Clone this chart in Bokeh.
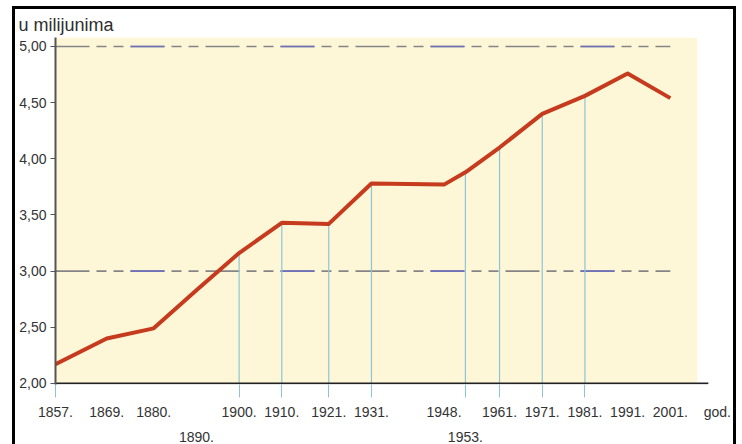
from bokeh.plotting import figure
from bokeh.models import Range1d, FixedTicker, LinearAxis
from bokeh.embed import file_html
from bokeh.resources import INLINE

# ---- data ----
years = [1857, 1869, 1880, 1890, 1900, 1910, 1921, 1931, 1948, 1953, 1961, 1971, 1981, 1991, 2001]
population = [2.17, 2.40, 2.49, 2.83, 3.16, 3.43, 3.42, 3.78, 3.77, 3.88, 4.10, 4.40, 4.56, 4.76, 4.54]
drop_years = [1900, 1910, 1921, 1931, 1953, 1961, 1971, 1981]
upper_label_years = [1857, 1869, 1880, 1900, 1910, 1921, 1931, 1948, 1961, 1971, 1981, 1991, 2001]
lower_label_years = [1890, 1953]
y_ticks = [2.0, 2.5, 3.0, 3.5, 4.0, 4.5, 5.0]
y_tick_labels = ["2,00", "2,50", "3,00", "3,50", "4,00", "4,50", "5,00"]
ref_levels = [3.0, 5.0]
title_text = "u milijunima"
x_unit_text = "god."
x_unit_pos = 2012
axis_end = 2009.9
panel_end = 2007.3

FONT = "Liberation Sans"
TXT = "#333333"

p = figure(width=724, height=438, x_range=Range1d(1857, 2017.2), y_range=Range1d(1.99, 5.08),
           output_backend="svg", toolbar_location=None,
           x_axis_type=None, y_axis_type=None,
           min_border_left=40, min_border_right=0, min_border_top=28, min_border_bottom=63)
p.outline_line_color = None
p.background_fill_color = "white"
p.border_fill_color = "white"
p.margin = (6, 0, 0, 12)
p.styles = {"border-left": "3px solid black", "border-top": "3px solid black",
            "border-right": "3px solid black"}

# title
p.title.text = title_text
p.title.align = "left"
p.title.offset = -37
p.title.standoff = 6
p.title.text_font = FONT
p.title.text_font_size = "18px"
p.title.text_font_style = "normal"
p.title.text_color = "#2e2e2e"

# yellow panel
p.quad(left=[years[0]], right=[panel_end], bottom=[y_ticks[0]], top=[5.08],
       fill_color="#fdf7d8", line_color=None)

# dashed reference lines (gray dash-dot pattern with some bluish long dashes)
for lv in ref_levels:
    p.line([years[0], years[-1]], [lv, lv], line_color="#858585", line_width=1.6,
           line_dash="34 7 10 7 10 7")
    p.line([years[0], years[-1]], [lv, lv], line_color="#6f72bb", line_width=1.6,
           line_dash="34 116", line_dash_offset=-75)

# vertical drop lines
lookup = dict(zip(years, population))
p.segment(x0=drop_years, y0=[y_ticks[0]] * len(drop_years), x1=drop_years,
          y1=[lookup[y] for y in drop_years], line_color="#8ec5d6", line_width=1.2)

# x axis base line (ends before the unit label)
p.line([years[0], axis_end], [y_ticks[0], y_ticks[0]], line_color="#222222", line_width=1.6)

# population line
p.line(years, population, line_color="#c63a1d", line_width=4, line_join="round")

# y axis
yax = LinearAxis(ticker=FixedTicker(ticks=y_ticks),
                 major_label_overrides={t: l for t, l in zip(y_ticks, y_tick_labels)})
yax.axis_line_color = "#555555"
yax.axis_line_width = 2
yax.major_tick_line_color = "#555555"
yax.major_tick_in = 0
yax.major_tick_out = 5
yax.minor_tick_line_color = None
yax.major_label_standoff = 4
yax.major_label_text_font = FONT
yax.major_label_text_font_size = "14px"
yax.major_label_text_color = TXT
p.add_layout(yax, "left")

# x axis (upper labels + unit)
upper_ticks = upper_label_years + [x_unit_pos]
overrides = {y: f"{y}." for y in upper_label_years}
overrides[x_unit_pos] = x_unit_text
xax = LinearAxis(ticker=FixedTicker(ticks=upper_ticks, minor_ticks=[years[0]] + drop_years),
                 major_label_overrides=overrides)
xax.axis_line_color = None
xax.major_tick_line_color = None
xax.major_tick_in = 0
xax.major_tick_out = 0
xax.minor_tick_line_color = "#8ec5d6"
xax.minor_tick_in = 0
xax.minor_tick_out = 13
xax.major_label_standoff = 6
xax.major_label_text_font = FONT
xax.major_label_text_font_size = "14px"
xax.major_label_text_color = TXT
p.add_layout(xax, "below")

# x axis (lower staggered labels)
xax2 = LinearAxis(ticker=FixedTicker(ticks=lower_label_years, minor_ticks=[]),
                  major_label_overrides={y: f"{y}." for y in lower_label_years})
xax2.axis_line_color = None
xax2.major_tick_line_color = None
xax2.minor_tick_line_color = None
xax2.major_tick_in = 0
xax2.major_tick_out = 0
xax2.major_label_standoff = 9
xax2.major_label_text_font = FONT
xax2.major_label_text_font_size = "14px"
xax2.major_label_text_color = TXT
p.add_layout(xax2, "below")

open("out.html", "w").write(file_html(p, INLINE))
